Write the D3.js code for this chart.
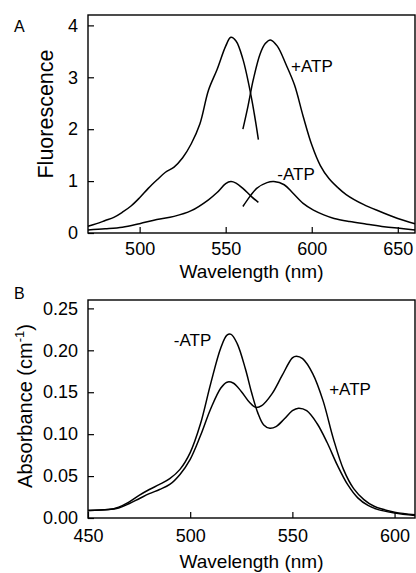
<!DOCTYPE html>
<html>
<head>
<meta charset="utf-8">
<script src="https://cdn.jsdelivr.net/npm/d3@7"></script>
<style>
  html, body { margin: 0; padding: 0; background: #fff; }
  svg { display: block; font-family: "Liberation Sans", Arial, sans-serif; }
</style>
</head>
<body>
<svg id="chart" width="416" height="573"></svg>
<script>
// ---------- Panel A: fluorescence ----------
const aPlusDonorNm  = [470,475,480,485,490,495,500,505,510,515,520,525,530,535,540,545,550,553,556,560,565,569];
const aPlusDonorVal = [0.13,0.18,0.24,0.30,0.40,0.52,0.68,0.86,1.02,1.17,1.27,1.45,1.72,2.10,2.75,3.15,3.60,3.77,3.70,3.35,2.60,1.80];
const aPlusAccNm    = [560,563,566,570,573,576,580,585,590,595,600,605,610,615,620,630,640,650,660];
const aPlusAccVal   = [2.00,2.45,2.95,3.45,3.65,3.72,3.60,3.25,2.85,2.25,1.70,1.30,1.05,0.88,0.74,0.55,0.41,0.28,0.18];
const aMinusDonorNm  = [470,480,490,500,510,520,530,540,545,550,553,556,560,565,569];
const aMinusDonorVal = [0.06,0.08,0.11,0.18,0.26,0.32,0.43,0.64,0.78,0.95,0.99,0.96,0.86,0.70,0.59];
const aMinusAccNm    = [560,564,568,574,578,584,589,595,601,607,613,622,632,642,651,660];
const aMinusAccVal   = [0.51,0.70,0.86,0.97,0.99,0.93,0.77,0.57,0.44,0.35,0.28,0.22,0.17,0.12,0.09,0.06];
const aXTicks = [500,550,600,650];
const aYTicks = [0,1,2,3,4];

// ---------- Panel B: absorbance ----------
const bMinusNm  = [450,460,465,470,475,480,485,490,495,500,505,510,515,518,520,523,527,530,533,536,539,542,546,550,553,557,562,567,572,577,582,587,592,600,610];
const bMinusVal = [0.009,0.010,0.013,0.019,0.027,0.034,0.040,0.047,0.058,0.078,0.112,0.160,0.203,0.218,0.219,0.208,0.178,0.150,0.126,0.111,0.107,0.109,0.118,0.128,0.131,0.128,0.113,0.090,0.063,0.040,0.024,0.015,0.010,0.006,0.003];
const bPlusNm   = [450,460,465,470,475,480,485,490,495,500,505,510,515,518,521,525,529,532,535,540,545,550,552,555,560,565,570,575,580,585,590,600,610];
const bPlusVal  = [0.009,0.010,0.012,0.017,0.023,0.029,0.034,0.040,0.052,0.070,0.098,0.130,0.155,0.162,0.161,0.151,0.138,0.132,0.134,0.148,0.170,0.191,0.193,0.190,0.172,0.140,0.095,0.058,0.035,0.022,0.014,0.007,0.004];
const bXTicks = [450,500,550,600];
const bYTicks = [0,0.05,0.10,0.15,0.20,0.25];

const svg = d3.select("#chart");
const zip = (xs, ys) => xs.map((x, i) => [x, ys[i]]);

function panel(opts) {
  const g = svg.append("g");
  const x = d3.scaleLinear().domain(opts.xDomain).range([opts.left, opts.right]);
  const y = d3.scaleLinear().domain(opts.yDomain).range([opts.bottom, opts.top]);

  const line = d3.line().x(d => x(d[0])).y(d => y(d[1])).curve(d3.curveCatmullRom.alpha(0.5));
  opts.series.forEach(s => {
    g.append("path").attr("d", line(s)).attr("fill", "none")
      .attr("stroke", "#000").attr("stroke-width", 1.5);
  });

  const xAxis = d3.axisBottom(x).tickValues(opts.xTicks).tickSize(-6).tickPadding(opts.xPad)
    .tickFormat(d3.format("d"));
  const yAxis = d3.axisLeft(y).tickValues(opts.yTicks).tickSize(-6).tickPadding(10)
    .tickFormat(opts.yFormat);

  const gx = g.append("g").attr("transform", `translate(0,${opts.bottom})`).call(xAxis);
  const gy = g.append("g").attr("transform", `translate(${opts.left},0)`).call(yAxis);
  [gx, gy].forEach(a => {
    a.attr("font-family", null).attr("font-size", null);
    a.select(".domain").remove();
    a.selectAll("line").attr("stroke", "#000").attr("stroke-width", 1.2);
    a.selectAll("text").attr("fill", "#000").style("font-size", "18px");
  });

  g.append("rect").attr("x", opts.left).attr("y", opts.top)
    .attr("width", opts.right - opts.left).attr("height", opts.bottom - opts.top)
    .attr("fill", "none").attr("stroke", "#000").attr("stroke-width", 1.4);

  // x title
  g.append("text").attr("x", (opts.left + opts.right) / 2).attr("y", opts.bottom + opts.xTitleDy)
    .attr("text-anchor", "middle").style("font-size", "19px").text("Wavelength (nm)");

  // y title
  const yt = g.append("text")
    .attr("transform", `translate(${opts.yTitleX},${opts.yTitleY}) rotate(-90)`)
    .attr("text-anchor", "middle").style("font-size", opts.yTitleSize + "px");
  opts.yTitle(yt);

  // panel letter
  g.append("text").attr("x", 14).attr("y", opts.letterY).style("font-size", "16px").text(opts.letter);

  opts.labels.forEach(l => {
    g.append("text").attr("x", x(l.nm)).attr("y", y(l.v)).style("font-size", "17px").text(l.t);
  });
}

panel({
  left: 88, right: 415, top: 15, bottom: 233,
  xDomain: [470, 660], yDomain: [0, 4.2],
  xTicks: aXTicks, yTicks: aYTicks, yFormat: d3.format("d"), xPad: 9, xTitleDy: 45,
  series: [zip(aPlusDonorNm, aPlusDonorVal), zip(aPlusAccNm, aPlusAccVal),
           zip(aMinusDonorNm, aMinusDonorVal), zip(aMinusAccNm, aMinusAccVal)],
  yTitleX: 53, yTitleY: 114, yTitleSize: 21.5,
  yTitle: t => t.text("Fluorescence"),
  letter: "A", letterY: 32,
  labels: [{nm: 588, v: 3.1, t: "+ATP"}, {nm: 580, v: 1.02, t: "-ATP"}]
});

panel({
  left: 88, right: 415, top: 300, bottom: 518,
  xDomain: [450, 610], yDomain: [0, 0.26],
  xTicks: bXTicks, yTicks: bYTicks, yFormat: d3.format(".2f"), xPad: 11, xTitleDy: 50,
  series: [zip(bMinusNm, bMinusVal), zip(bPlusNm, bPlusVal)],
  yTitleX: 32, yTitleY: 406, yTitleSize: 20,
  yTitle: t => {
    t.append("tspan").text("Absorbance (cm");
    t.append("tspan").attr("dy", -8).style("font-size", "13px").text("-1");
    t.append("tspan").attr("dy", 8).text(")");
  },
  letter: "B", letterY: 299,
  labels: [{nm: 492, v: 0.205, t: "-ATP"}, {nm: 568, v: 0.147, t: "+ATP"}]
});
</script>
</body>
</html>
